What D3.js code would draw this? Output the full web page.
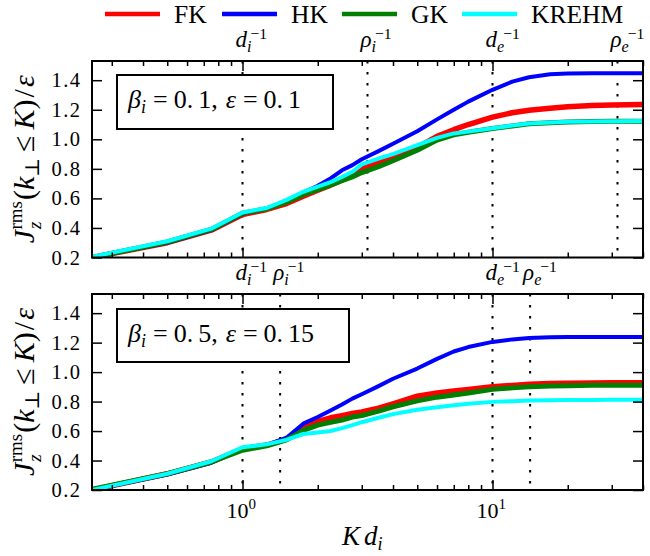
<!DOCTYPE html>
<html>
<head>
<meta charset="utf-8">
<script src="https://cdn.jsdelivr.net/npm/d3@7"></script>
<style>
  html, body { margin: 0; padding: 0; background: #fff; }
  svg { display: block; }
  text { font-family: "Liberation Serif", "DejaVu Serif", serif; fill: #000; }
</style>
</head>
<body>
<svg id="chart" width="650" height="556"></svg>
<script>
// Wavenumber grid (K d_i) shared by both runs
const kGrid = [0.25, 0.5, 0.75, 1, 1.25, 1.5, 1.75, 2, 2.25, 2.5, 2.75, 3, 3.5, 4, 5, 6, 7, 8, 10, 12, 14, 17, 20, 25, 30, 40];

// Run 1: beta_i = 0.1, epsilon = 0.1
const topFK    = [0.20, 0.30, 0.385, 0.49, 0.525, 0.565, 0.615, 0.655, 0.69, 0.725, 0.76, 0.80, 0.845, 0.88, 0.945, 1.02, 1.065, 1.10, 1.15, 1.18, 1.197, 1.21, 1.22, 1.228, 1.232, 1.235];
const topHK    = [0.20, 0.30, 0.385, 0.495, 0.53, 0.58, 0.64, 0.685, 0.735, 0.79, 0.825, 0.865, 0.92, 0.97, 1.055, 1.135, 1.20, 1.255, 1.335, 1.39, 1.42, 1.44, 1.445, 1.447, 1.447, 1.447];
const topGK    = [0.20, 0.305, 0.39, 0.50, 0.53, 0.575, 0.625, 0.66, 0.69, 0.72, 0.745, 0.775, 0.815, 0.855, 0.926, 0.995, 1.03, 1.048, 1.073, 1.09, 1.105, 1.112, 1.117, 1.12, 1.122, 1.123];
const topKREHM = [0.205, 0.31, 0.395, 0.505, 0.535, 0.59, 0.645, 0.68, 0.71, 0.745, 0.78, 0.83, 0.87, 0.90, 0.96, 1.01, 1.04, 1.052, 1.075, 1.093, 1.107, 1.114, 1.118, 1.121, 1.123, 1.124];

// Run 2: beta_i = 0.5, epsilon = 0.15
const botFK    = [0.20, 0.31, 0.39, 0.48, 0.505, 0.545, 0.625, 0.665, 0.69, 0.705, 0.72, 0.73, 0.755, 0.785, 0.837, 0.858, 0.872, 0.882, 0.90, 0.91, 0.918, 0.922, 0.925, 0.926, 0.927, 0.927];
const botHK    = [0.20, 0.305, 0.385, 0.48, 0.505, 0.555, 0.65, 0.695, 0.74, 0.78, 0.82, 0.85, 0.905, 0.955, 1.024, 1.09, 1.14, 1.17, 1.205, 1.222, 1.232, 1.236, 1.238, 1.238, 1.238, 1.238];
const botGK    = [0.205, 0.31, 0.39, 0.47, 0.50, 0.54, 0.605, 0.64, 0.66, 0.675, 0.695, 0.705, 0.735, 0.765, 0.805, 0.83, 0.845, 0.858, 0.883, 0.893, 0.90, 0.905, 0.908, 0.91, 0.911, 0.911];
const botKREHM = [0.20, 0.31, 0.395, 0.49, 0.51, 0.54, 0.58, 0.59, 0.60, 0.62, 0.64, 0.66, 0.69, 0.715, 0.745, 0.762, 0.775, 0.785, 0.798, 0.803, 0.807, 0.809, 0.81, 0.811, 0.812, 0.812];

// Model names and colours
const modelNames  = ["FK", "HK", "GK", "KREHM"];
const modelColors = ["#ff0000", "#0000ff", "#007f00", "#00ffff"];
const modelWidths = [5.5, 4, 5, 4];

// Characteristic scales (in units of d_i^-1)
const topScales = [1, Math.sqrt(10), 10, Math.sqrt(1000)];
const botScales = [1, Math.sqrt(2), 10, Math.sqrt(200)];
const scaleNames = [["d", "i"], ["ρ", "i"], ["d", "e"], ["ρ", "e"]];

// Axis ticks
const yTicks = [0.2, 0.4, 0.6, 0.8, 1.0, 1.2, 1.4];
const xMajor = [1, 10];
const xMinor = [0.3, 0.4, 0.5, 0.6, 0.7, 0.8, 0.9, 2, 3, 4, 5, 6, 7, 8, 9, 20, 30, 40];

const panels = [
  { top: 61,  bottom: 257.5, series: [topFK, topHK, topGK, topKREHM], scales: topScales,
    beta: "0.1", eps: "0.1", box: [117, 75, 333, 129], xLabels: false },
  { top: 294, bottom: 490,   series: [botFK, botHK, botGK, botKREHM], scales: botScales,
    beta: "0.5", eps: "0.15", box: [117, 309, 349, 362], xLabels: true }
];

const svg = d3.select("#chart");
const left = 92, right = 643;
const x = d3.scaleLog().domain([0.25, 40]).range([left, right]);

// Legend
const legend = svg.append("g");
const legX = [105, 222, 342, 462];
modelNames.forEach((name, i) => {
  legend.append("line")
    .attr("x1", legX[i]).attr("x2", legX[i] + 55)
    .attr("y1", 14).attr("y2", 14)
    .attr("stroke", modelColors[i]).attr("stroke-width", 4.5);
  legend.append("text")
    .attr("x", legX[i] + 69).attr("y", 23)
    .attr("font-size", 25.5)
    .text(name);
});

// italic symbol with italic subscript and "-1" superscript
function scaleLabel(g, xPos, yPos, base, sub, size) {
  const t = g.append("text").attr("x", xPos).attr("y", yPos).attr("font-size", size);
  t.append("tspan").attr("font-style", "italic").text(base);
  t.append("tspan").attr("font-style", "italic").attr("font-size", size * 0.7)
    .attr("dy", size * 0.22).text(sub);
  t.append("tspan").attr("font-size", size * 0.68).attr("dx", -1).attr("dy", -size * 0.55).text("−1");
  return t;
}

// "0.1" style number with mathtext-like gap after the point
function addNumber(t, s, dx0) {
  const parts = s.split(".");
  t.append("tspan").attr("dx", dx0).text(parts[0] + ".");
  t.append("tspan").attr("dx", 5).text(parts[1]);
}

panels.forEach((p, pi) => {
  const y = d3.scaleLinear().domain([0.2, 1.53]).range([p.bottom, p.top]);
  const g = svg.append("g");

  const clipId = "clip" + pi;
  svg.append("clipPath").attr("id", clipId)
    .append("rect").attr("x", left).attr("y", p.top)
    .attr("width", right - left).attr("height", p.bottom - p.top);

  // dotted guides at characteristic scales
  p.scales.forEach((s, si) => {
    g.append("line")
      .attr("x1", x(s)).attr("x2", x(s))
      .attr("y1", p.top).attr("y2", p.bottom)
      .attr("stroke", "#000").attr("stroke-width", 2)
      .attr("stroke-dasharray", "2.5,8.5");
    scaleLabel(g, x(s) - 7, p.top - 14, scaleNames[si][0], scaleNames[si][1], 23);
  });

  // curves
  const line = d3.line().x((d, i) => x(kGrid[i])).y(d => y(d));
  const curves = g.append("g").attr("clip-path", `url(#${clipId})`);
  p.series.forEach((vals, i) => {
    curves.append("path")
      .datum(vals)
      .attr("d", line)
      .attr("fill", "none")
      .attr("stroke", modelColors[i])
      .attr("stroke-width", modelWidths[i])
      .attr("stroke-linejoin", "round");
  });

  // axes with inward ticks on all four sides
  const axB = d3.axisBottom(x).tickValues(xMajor).tickSize(-10).tickFormat("");
  const axBm = d3.axisBottom(x).tickValues(xMinor).tickSize(-5).tickFormat("");
  const axT = d3.axisTop(x).tickValues(xMajor).tickSize(-10).tickFormat("");
  const axTm = d3.axisTop(x).tickValues(xMinor).tickSize(-5).tickFormat("");
  const axL = d3.axisLeft(y).tickValues(yTicks).tickSize(-10).tickFormat("");
  const axR = d3.axisRight(y).tickValues(yTicks).tickSize(-10).tickFormat("");

  [[axB, `translate(0,${p.bottom})`], [axBm, `translate(0,${p.bottom})`],
   [axT, `translate(0,${p.top})`], [axTm, `translate(0,${p.top})`],
   [axL, `translate(${left},0)`], [axR, `translate(${right},0)`]].forEach(([ax, tr]) => {
    const a = g.append("g").attr("transform", tr).call(ax);
    a.select(".domain").remove();
    a.selectAll(".tick line").attr("stroke", "#000").attr("stroke-width", 1.5);
  });

  // y tick labels
  yTicks.forEach(v => {
    const s = v.toFixed(1);
    const t = g.append("text")
      .attr("x", 80).attr("y", y(v) + 7)
      .attr("text-anchor", "end").attr("font-size", 20.5);
    t.append("tspan").text(s[0]);
    t.append("tspan").attr("dx", 1.5).text(".");
    t.append("tspan").attr("dx", 1.5).text(s[2]);
  });

  // x tick labels (bottom panel only)
  if (p.xLabels) {
    xMajor.forEach((v, i) => {
      const t = g.append("text")
        .attr("x", x(v) - 16).attr("y", p.bottom + 28)
        .attr("font-size", 22);
      t.append("tspan").text("10");
      t.append("tspan").attr("font-size", 15).attr("dy", -9).text(String(i));
    });
  }

  // frame
  g.append("rect")
    .attr("x", left).attr("y", p.top)
    .attr("width", right - left).attr("height", p.bottom - p.top)
    .attr("fill", "none").attr("stroke", "#000").attr("stroke-width", 2);

  // parameter box
  const [bx0, by0, bx1, by1] = p.box;
  g.append("rect")
    .attr("x", bx0).attr("y", by0).attr("width", bx1 - bx0).attr("height", by1 - by0)
    .attr("fill", "#fff").attr("stroke", "#000").attr("stroke-width", 2);
  const bt = g.append("text").attr("x", bx0 + 11).attr("y", by0 + 33).attr("font-size", 26);
  bt.append("tspan").attr("font-style", "italic").text("β");
  bt.append("tspan").attr("font-style", "italic").attr("font-size", 18).attr("dy", 5).text("i");
  bt.append("tspan").attr("dy", -5).attr("dx", 7).text("=");
  addNumber(bt, p.beta, 6);
  bt.append("tspan").text(",");
  bt.append("tspan").attr("font-style", "italic").attr("dx", 8).text("ε");
  bt.append("tspan").attr("dx", 7).text("=");
  addNumber(bt, p.eps, 6);

  // y axis label: J_z^rms(k_perp <= K)/eps
  const cy = (p.top + p.bottom) / 2;
  const yl = g.append("text")
    .attr("transform", `translate(34,${cy}) rotate(-90)`)
    .attr("text-anchor", "middle").attr("font-size", 30);
  yl.append("tspan").attr("font-style", "italic").text("J");
  yl.append("tspan").attr("font-style", "italic").attr("font-size", 19).attr("dx", 1).attr("dy", 7).text("z");
  yl.append("tspan").attr("font-size", 19).attr("dx", -8).attr("dy", -19).text("rms");
  yl.append("tspan").attr("dy", 12).attr("dx", 1).text("(");
  yl.append("tspan").attr("font-style", "italic").text("k");
  yl.append("tspan").attr("font-size", 20).attr("dy", 5).text("⊥");
  yl.append("tspan").attr("dy", -5).attr("dx", 6).text("≤");
  yl.append("tspan").attr("font-style", "italic").attr("dx", 6).text("K");
  yl.append("tspan").text(")");
  yl.append("tspan").attr("dx", 2).text("/");
  yl.append("tspan").attr("font-style", "italic").attr("dx", 2).text("ε");
});

// x axis label
const xl = svg.append("text").attr("x", 342).attr("y", 545).attr("font-size", 27);
xl.append("tspan").attr("font-style", "italic").text("K");
xl.append("tspan").attr("font-style", "italic").attr("dx", 4).text("d");
xl.append("tspan").attr("font-style", "italic").attr("font-size", 18).attr("dy", 5).text("i");
</script>
</body>
</html>
